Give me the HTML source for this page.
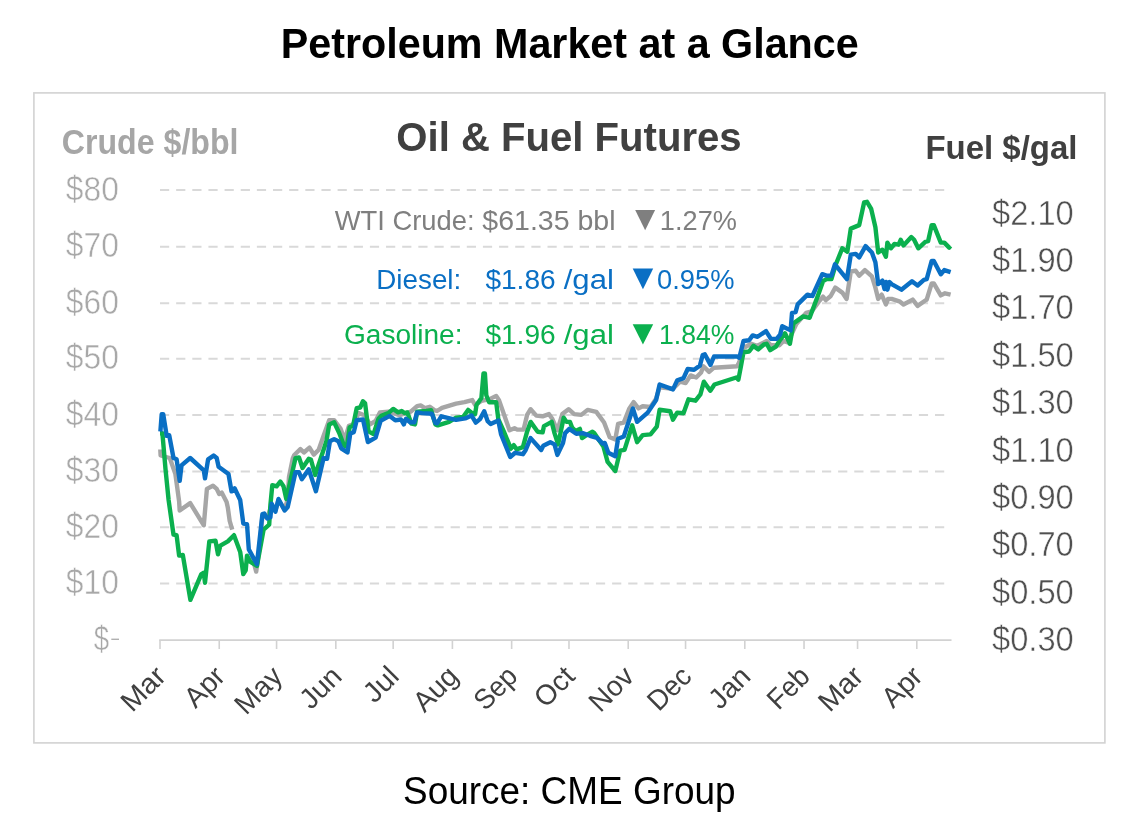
<!DOCTYPE html>
<html><head><meta charset="utf-8"><title>Petroleum Market at a Glance</title>
<style>
html,body{margin:0;padding:0;background:#fff;}
svg{display:block;font-family:"Liberation Sans",sans-serif;will-change:transform;}
</style></head>
<body>
<svg width="1138" height="826" viewBox="0 0 1138 826">
<rect x="33.9" y="92.9" width="1071" height="650" fill="none" stroke="#d2d2d2" stroke-width="1.6"/>
<line x1="160" x2="951" y1="190.10" y2="190.10" stroke="#d9d9d9" stroke-width="2" stroke-dasharray="9.2 6.946"/>
<line x1="160" x2="951" y1="246.70" y2="246.70" stroke="#d9d9d9" stroke-width="2" stroke-dasharray="9.2 6.946"/>
<line x1="160" x2="951" y1="303.20" y2="303.20" stroke="#d9d9d9" stroke-width="2" stroke-dasharray="9.2 6.946"/>
<line x1="160" x2="951" y1="358.70" y2="358.70" stroke="#d9d9d9" stroke-width="2" stroke-dasharray="9.2 6.946"/>
<line x1="160" x2="951" y1="414.90" y2="414.90" stroke="#d9d9d9" stroke-width="2" stroke-dasharray="9.2 6.946"/>
<line x1="160" x2="951" y1="471.50" y2="471.50" stroke="#d9d9d9" stroke-width="2" stroke-dasharray="9.2 6.946"/>
<line x1="160" x2="951" y1="527.20" y2="527.20" stroke="#d9d9d9" stroke-width="2" stroke-dasharray="9.2 6.946"/>
<line x1="160" x2="951" y1="583.60" y2="583.60" stroke="#d9d9d9" stroke-width="2" stroke-dasharray="9.2 6.946"/>
<line x1="159.2" x2="951.5" y1="640.1" y2="640.1" stroke="#d2d2d2" stroke-width="1.6"/>
<line x1="160.00" x2="160.00" y1="640.1" y2="649" stroke="#d2d2d2" stroke-width="1.6"/>
<line x1="219.24" x2="219.24" y1="640.1" y2="649" stroke="#d2d2d2" stroke-width="1.6"/>
<line x1="276.58" x2="276.58" y1="640.1" y2="649" stroke="#d2d2d2" stroke-width="1.6"/>
<line x1="335.82" x2="335.82" y1="640.1" y2="649" stroke="#d2d2d2" stroke-width="1.6"/>
<line x1="393.16" x2="393.16" y1="640.1" y2="649" stroke="#d2d2d2" stroke-width="1.6"/>
<line x1="452.40" x2="452.40" y1="640.1" y2="649" stroke="#d2d2d2" stroke-width="1.6"/>
<line x1="511.64" x2="511.64" y1="640.1" y2="649" stroke="#d2d2d2" stroke-width="1.6"/>
<line x1="568.98" x2="568.98" y1="640.1" y2="649" stroke="#d2d2d2" stroke-width="1.6"/>
<line x1="628.22" x2="628.22" y1="640.1" y2="649" stroke="#d2d2d2" stroke-width="1.6"/>
<line x1="685.56" x2="685.56" y1="640.1" y2="649" stroke="#d2d2d2" stroke-width="1.6"/>
<line x1="744.80" x2="744.80" y1="640.1" y2="649" stroke="#d2d2d2" stroke-width="1.6"/>
<line x1="804.04" x2="804.04" y1="640.1" y2="649" stroke="#d2d2d2" stroke-width="1.6"/>
<line x1="857.56" x2="857.56" y1="640.1" y2="649" stroke="#d2d2d2" stroke-width="1.6"/>
<line x1="916.80" x2="916.80" y1="640.1" y2="649" stroke="#d2d2d2" stroke-width="1.6"/>
<g fill="none" stroke-width="4.4" stroke-linejoin="round" stroke-linecap="butt">
<path d="M160.3,449.5 L160.6,455.5 L169.8,458.0 L175.4,474.1 L179.1,501.2 L179.7,510.5 L190.2,503.1 L203.8,525.3 L206.9,488.9 L213.0,485.8 L216.7,488.9 L219.2,494.0 L221.7,492.6 L226.6,502.0 L227.8,507.4 L229.7,521.0 L232.2,529.6" stroke="#a6a6a6"/>
<path d="M252.0,556.0 L256.2,571.6 L259.5,548.0 L262.4,516.0 L267.3,517.5 L271.7,505.0 L275.4,510.5 L278.5,500.0 L284.6,509.5 L287.5,500.0 L289.0,477.0 L292.7,458.7 L294.1,455.3 L300.4,449.0 L303.9,452.5 L309.5,447.6 L313.8,454.6 L318.7,449.7 L323.6,435.6 L329.2,420.2 L334.1,420.2 L340.5,428.6 L344.7,439.9 L348.9,425.8 L353.1,424.4 L358.8,413.1 L364.4,415.2 L370.0,424.4 L375.6,420.9 L379.9,412.4 L388.3,411.7 L393.9,413.1 L399.5,415.2 L410.8,411.7 L417.1,406.1 L420.6,405.4 L424.9,408.2 L429.8,406.8 L434.7,410.3 L437.0,411.0 L442.0,407.8 L456.1,403.6 L464.5,402.2 L472.3,400.1 L475.1,405.0 L481.4,400.8 L489.1,399.4 L496.2,395.9 L499.0,400.1 L509.5,430.3 L514.5,428.2 L517.3,429.6 L523.6,429.6 L527.1,414.9 L530.6,409.2 L536.3,415.6 L542.6,416.3 L548.9,414.1 L552.4,419.1 L557.4,430.3 L562.3,414.1 L568.6,409.2 L574.2,414.1 L581.3,414.9 L587.6,409.9 L596.3,411.9 L604.1,422.5 L609.7,437.2 L615.3,439.4 L618.1,423.9 L623.8,422.5 L629.4,408.4 L633.6,402.1 L638.5,408.4 L642.7,406.3 L650.5,407.0 L656.1,398.6 L659.6,387.3 L673.0,388.7 L680.0,381.7 L685.6,383.1 L690.6,375.4 L696.2,377.5 L701.1,372.5 L703.4,366.3 L709.1,371.9 L714.0,367.7 L737.2,366.3 L739.3,362.1 L743.5,348.0 L751.3,343.8 L756.9,345.9 L766.7,341.0 L770.9,345.2 L779.4,345.2 L783.6,341.0 L787.8,342.4 L796.3,324.1 L806.1,312.9 L811.7,311.4 L818.8,301.6 L823.0,296.7 L825.8,300.2 L830.7,296.0 L835.3,287.6 L842.3,292.6 L846.6,298.9 L850.8,271.5 L855.7,270.8 L859.2,275.7 L864.9,270.1 L871.9,276.4 L875.4,287.6 L878.2,298.9 L881.7,294.7 L885.9,304.5 L888.1,298.9 L891.6,298.9 L900.0,301.7 L903.5,304.5 L912.7,299.6 L917.6,305.9 L924.6,301.0 L926.7,299.6 L931.7,283.4 L933.8,283.4 L940.8,295.4 L945.0,293.3 L950.6,294.7" stroke="#a6a6a6"/>
<path d="M160.0,433.3 L162.4,433.3 L165.5,469.1 L168.6,500.0 L173.5,534.6 L176.6,535.2 L179.1,555.6 L182.8,554.9 L190.4,599.8 L201.3,574.1 L203.8,572.8 L205.0,582.7 L209.3,541.4 L215.5,540.7 L218.0,554.3 L220.4,545.7 L227.8,541.4 L234.0,535.2 L240.2,551.9 L243.3,574.1 L245.7,570.4 L247.0,555.6 L250.1,561.7 L256.9,566.0 L263.6,529.6 L269.2,524.7 L270.4,505.0 L272.3,485.2 L276.6,486.4 L280.3,481.5 L283.5,486.3 L286.3,498.9 L295.5,458.1 L299.0,457.4 L302.5,468.0 L308.8,458.8 L310.9,459.5 L315.2,475.0 L326.4,441.3 L329.2,424.4 L334.1,422.3 L339.1,432.8 L344.0,445.5 L346.8,446.9 L349.6,427.2 L353.1,425.8 L356.7,408.2 L360.2,407.5 L363.0,401.2 L365.1,403.3 L368.6,431.4 L373.5,434.2 L378.5,418.8 L381.3,415.9 L388.3,413.1 L393.2,408.9 L398.1,412.4 L401.7,411.0 L404.5,413.1 L407.3,412.4 L411.5,423.7 L415.0,424.4 L417.1,411.7 L426.3,411.0 L431.2,410.3 L435.4,424.4 L437.8,425.4 L449.1,421.9 L456.1,417.7 L463.1,417.0 L468.1,409.9 L471.6,412.7 L475.1,414.1 L476.5,405.0 L481.4,398.0 L483.5,373.4 L484.9,373.4 L486.3,395.2 L489.1,402.2 L496.2,402.2 L498.3,419.1 L503.9,431.7 L510.9,448.6 L513.8,445.1 L516.6,449.3 L522.9,447.2 L527.1,431.7 L530.6,421.9 L537.7,431.7 L542.6,432.4 L544.0,426.1 L551.7,421.9 L554.5,433.1 L558.1,444.4 L563.7,417.7 L566.5,421.9 L570.0,421.9 L572.1,427.5 L575.6,431.0 L579.9,428.9 L582.0,438.1 L587.6,434.5 L592.5,431.7 L594.2,433.0 L603.4,446.4 L607.6,461.9 L615.3,471.0 L620.2,450.6 L624.5,449.9 L632.2,425.3 L637.1,442.2 L642.7,435.1 L650.5,434.4 L656.8,426.7 L659.6,409.8 L670.2,411.2 L673.0,419.7 L677.2,412.6 L683.5,413.3 L688.5,399.3 L695.5,400.7 L700.4,394.3 L703.9,381.7 L710.3,390.8 L714.5,384.5 L736.3,377.5 L738.4,379.6 L741.2,364.8 L743.5,352.2 L749.1,351.5 L753.4,345.9 L758.3,349.4 L763.9,344.5 L766.7,343.8 L770.2,350.1 L775.9,346.6 L779.4,341.0 L785.0,333.2 L789.9,343.8 L793.5,323.4 L803.3,316.4 L809.6,317.8 L818.8,293.2 L823.0,281.2 L826.5,279.1 L831.4,279.1 L835.6,265.0 L842.3,248.3 L847.3,251.8 L850.8,228.6 L859.2,225.1 L864.1,202.5 L867.0,201.8 L871.2,208.9 L875.4,227.2 L878.2,252.5 L882.4,249.7 L885.9,256.7 L887.4,242.6 L890.9,248.3 L894.4,244.0 L898.6,244.7 L900.7,239.8 L903.5,245.4 L911.3,237.0 L914.1,239.8 L918.3,248.3 L925.3,241.9 L928.1,241.2 L931.7,225.1 L933.8,225.1 L940.8,242.6 L944.3,242.6 L949.2,247.6 L950.6,246.1" stroke="#0bb04e"/>
<path d="M160.4,431.5 L161.7,414.2 L163.2,414.2 L166.7,435.8 L169.2,435.2 L173.5,458.0 L176.6,459.3 L179.7,480.9 L181.5,465.4 L190.2,458.0 L203.8,470.4 L205.0,478.4 L208.1,459.3 L213.6,455.6 L216.7,458.0 L218.6,466.7 L228.5,474.1 L231.5,491.4 L234.6,488.3 L240.2,500.0 L243.3,523.5 L247.0,524.1 L248.8,549.4 L256.9,564.2 L262.4,514.2 L264.3,513.6 L267.3,518.5 L270.4,517.3 L271.7,503.7 L275.4,511.7 L278.5,499.0 L284.6,510.5 L287.7,507.0 L295.5,472.2 L299.0,472.2 L301.8,479.2 L308.8,469.4 L315.9,491.2 L323.6,458.1 L327.1,458.8 L329.9,441.3 L334.1,439.1 L338.4,441.3 L341.2,448.3 L347.5,452.5 L350.3,433.5 L353.8,432.1 L356.7,420.2 L363.0,419.5 L367.9,442.0 L375.6,437.7 L380.6,420.9 L389.7,415.9 L395.3,420.2 L401.0,419.5 L403.8,424.4 L405.9,418.8 L410.1,422.3 L414.3,422.3 L417.1,412.4 L422.1,413.1 L431.9,413.8 L435.4,423.0 L437.1,423.3 L441.3,416.3 L456.1,419.8 L465.2,418.4 L471.6,415.6 L475.8,422.6 L480.0,419.1 L484.2,411.3 L487.7,421.2 L490.6,424.0 L498.3,420.5 L501.1,434.5 L510.2,457.0 L515.2,452.8 L522.9,454.2 L525.7,450.0 L530.6,438.1 L541.2,450.0 L543.3,445.8 L550.3,442.3 L554.5,444.4 L557.4,454.9 L563.0,443.0 L565.1,433.1 L569.3,428.9 L576.3,433.8 L582.7,433.1 L590.0,435.8 L597.0,437.9 L602.7,443.6 L604.8,442.9 L608.3,452.7 L615.3,456.2 L618.1,438.7 L623.8,436.5 L632.9,408.4 L637.1,421.8 L647.7,412.6 L656.1,400.0 L659.6,384.5 L673.0,389.4 L677.2,380.3 L683.5,378.2 L687.7,369.0 L694.1,369.7 L699.9,365.6 L702.7,355.0 L704.8,354.3 L710.5,364.9 L714.0,356.5 L737.2,356.5 L739.3,357.9 L743.5,341.0 L749.1,340.3 L752.7,335.4 L757.6,336.8 L766.0,331.1 L770.9,338.9 L776.6,338.9 L780.1,334.7 L782.2,326.2 L790.6,330.4 L792.0,312.9 L795.6,312.1 L797.7,304.4 L807.5,294.6 L812.4,296.0 L822.3,274.2 L826.5,275.6 L831.4,275.6 L834.9,264.3 L846.9,279.1 L850.8,254.6 L855.7,253.9 L859.2,257.4 L865.6,246.1 L871.9,252.5 L875.4,262.3 L878.2,284.1 L882.4,280.6 L884.5,289.0 L886.0,282.0 L887.4,289.7 L889.5,282.0 L891.6,284.1 L901.4,289.7 L912.0,281.3 L917.6,285.5 L923.9,279.9 L926.7,279.2 L931.7,260.9 L933.8,260.9 L940.8,274.3 L944.3,270.1 L950.6,272.2" stroke="#0a6fc4"/>
</g>
<text transform="translate(280.73,57.50) scale(0.9831,1)" font-size="42" font-weight="bold" fill="#000" >Petroleum Market at a Glance</text>
<text transform="translate(396.32,151.00) scale(0.9783,1)" font-size="41" font-weight="bold" fill="#404040" >Oil &amp; Fuel Futures</text>
<text transform="translate(61.77,154.00) scale(0.9321,1)" font-size="34.5" font-weight="bold" fill="#a6a6a6" >Crude $/bbl</text>
<text transform="translate(925.43,158.90) scale(0.9841,1)" font-size="33.5" font-weight="bold" fill="#404040" >Fuel $/gal</text>
<text transform="translate(65.80,200.70) scale(0.9000,1)" font-size="35.3" font-weight="normal" fill="#a8a8a8" stroke="#fff" stroke-width="0.5">$80</text>
<text transform="translate(65.80,257.30) scale(0.9000,1)" font-size="35.3" font-weight="normal" fill="#a8a8a8" stroke="#fff" stroke-width="0.5">$70</text>
<text transform="translate(65.80,313.80) scale(0.9000,1)" font-size="35.3" font-weight="normal" fill="#a8a8a8" stroke="#fff" stroke-width="0.5">$60</text>
<text transform="translate(65.80,369.30) scale(0.9000,1)" font-size="35.3" font-weight="normal" fill="#a8a8a8" stroke="#fff" stroke-width="0.5">$50</text>
<text transform="translate(65.80,425.50) scale(0.9000,1)" font-size="35.3" font-weight="normal" fill="#a8a8a8" stroke="#fff" stroke-width="0.5">$40</text>
<text transform="translate(65.80,482.10) scale(0.9000,1)" font-size="35.3" font-weight="normal" fill="#a8a8a8" stroke="#fff" stroke-width="0.5">$30</text>
<text transform="translate(65.80,537.80) scale(0.9000,1)" font-size="35.3" font-weight="normal" fill="#a8a8a8" stroke="#fff" stroke-width="0.5">$20</text>
<text transform="translate(65.80,594.20) scale(0.9000,1)" font-size="35.3" font-weight="normal" fill="#a8a8a8" stroke="#fff" stroke-width="0.5">$10</text>
<text transform="translate(93.70,650.60) scale(0.7842,1)" font-size="35.3" font-weight="normal" fill="#a8a8a8" stroke="#fff" stroke-width="0.5">$</text>
<line x1="111.3" x2="119" y1="639.3" y2="639.3" stroke="#b0b0b0" stroke-width="1.4"/>
<text transform="translate(992.00,224.80) scale(0.9079,1)" font-size="36" font-weight="normal" fill="#505050" stroke="#fff" stroke-width="0.5">$2.10</text>
<text transform="translate(992.00,272.14) scale(0.9079,1)" font-size="36" font-weight="normal" fill="#505050" stroke="#fff" stroke-width="0.5">$1.90</text>
<text transform="translate(992.00,319.48) scale(0.9079,1)" font-size="36" font-weight="normal" fill="#505050" stroke="#fff" stroke-width="0.5">$1.70</text>
<text transform="translate(992.00,366.82) scale(0.9079,1)" font-size="36" font-weight="normal" fill="#505050" stroke="#fff" stroke-width="0.5">$1.50</text>
<text transform="translate(992.00,414.16) scale(0.9079,1)" font-size="36" font-weight="normal" fill="#505050" stroke="#fff" stroke-width="0.5">$1.30</text>
<text transform="translate(992.00,461.50) scale(0.9079,1)" font-size="36" font-weight="normal" fill="#505050" stroke="#fff" stroke-width="0.5">$1.10</text>
<text transform="translate(992.00,508.84) scale(0.9079,1)" font-size="36" font-weight="normal" fill="#505050" stroke="#fff" stroke-width="0.5">$0.90</text>
<text transform="translate(992.00,556.18) scale(0.9079,1)" font-size="36" font-weight="normal" fill="#505050" stroke="#fff" stroke-width="0.5">$0.70</text>
<text transform="translate(992.00,603.52) scale(0.9079,1)" font-size="36" font-weight="normal" fill="#505050" stroke="#fff" stroke-width="0.5">$0.50</text>
<text transform="translate(992.00,650.86) scale(0.9079,1)" font-size="36" font-weight="normal" fill="#505050" stroke="#fff" stroke-width="0.5">$0.30</text>
<text transform="translate(334.70,230.40) scale(0.9878,1)" font-size="27.7" font-weight="normal" fill="#7f7f7f" >WTI Crude:</text>
<text transform="translate(482.30,230.40) scale(1.0305,1)" font-size="27.7" font-weight="normal" fill="#7f7f7f" >$61.35 bbl</text>
<text transform="translate(659.84,230.40) scale(0.9816,1)" font-size="27.7" font-weight="normal" fill="#7f7f7f" >1.27%</text>
<polygon points="635.2,210.1 655.1,210.1 645.15,230.3" fill="#7f7f7f"/>
<text transform="translate(376.29,288.90) scale(1.0037,1)" font-size="27.7" font-weight="normal" fill="#0a6fc4" >Diesel:</text>
<text transform="translate(485.40,288.90) scale(1.0130,1)" font-size="27.7" font-weight="normal" fill="#0a6fc4" >$1.86</text>
<text transform="translate(563.70,288.90) scale(1.1233,1)" font-size="27.7" font-weight="normal" fill="#0a6fc4" >/gal</text>
<text transform="translate(657.01,288.90) scale(0.9857,1)" font-size="27.7" font-weight="normal" fill="#0a6fc4" >0.95%</text>
<polygon points="632.7,268.4 653.2,268.4 642.95,289.2" fill="#0a6fc4"/>
<text transform="translate(343.99,344.10) scale(1.0132,1)" font-size="27.7" font-weight="normal" fill="#0bb04e" >Gasoline:</text>
<text transform="translate(485.40,344.10) scale(1.0130,1)" font-size="27.7" font-weight="normal" fill="#0bb04e" >$1.96</text>
<text transform="translate(563.70,344.10) scale(1.1233,1)" font-size="27.7" font-weight="normal" fill="#0bb04e" >/gal</text>
<text transform="translate(658.98,344.10) scale(0.9605,1)" font-size="27.7" font-weight="normal" fill="#0bb04e" >1.84%</text>
<polygon points="632.7,324.2 653.2,324.2 642.95,344.4" fill="#0bb04e"/>
<text transform="translate(403.06,804.00) scale(0.9694,1)" font-size="38.1" font-weight="normal" fill="#000" >Source: CME Group</text>
<text transform="translate(167.50,678.0) rotate(-45) scale(1.020,1)" text-anchor="end" font-size="28.4" fill="#404040">Mar</text>
<text transform="translate(226.74,678.0) rotate(-45) scale(0.998,1)" text-anchor="end" font-size="28.4" fill="#404040">Apr</text>
<text transform="translate(284.08,678.0) rotate(-45) scale(1.001,1)" text-anchor="end" font-size="28.4" fill="#404040">May</text>
<text transform="translate(343.32,678.0) rotate(-45) scale(1.001,1)" text-anchor="end" font-size="28.4" fill="#404040">Jun</text>
<text transform="translate(400.66,678.0) rotate(-45) scale(1.021,1)" text-anchor="end" font-size="28.4" fill="#404040">Jul</text>
<text transform="translate(459.90,678.0) rotate(-45) scale(0.993,1)" text-anchor="end" font-size="28.4" fill="#404040">Aug</text>
<text transform="translate(519.14,678.0) rotate(-45) scale(0.948,1)" text-anchor="end" font-size="28.4" fill="#404040">Sep</text>
<text transform="translate(576.48,678.0) rotate(-45) scale(0.989,1)" text-anchor="end" font-size="28.4" fill="#404040">Oct</text>
<text transform="translate(635.72,678.0) rotate(-45) scale(0.995,1)" text-anchor="end" font-size="28.4" fill="#404040">Nov</text>
<text transform="translate(693.06,678.0) rotate(-45) scale(0.962,1)" text-anchor="end" font-size="28.4" fill="#404040">Dec</text>
<text transform="translate(752.30,678.0) rotate(-45) scale(1.001,1)" text-anchor="end" font-size="28.4" fill="#404040">Jan</text>
<text transform="translate(811.54,678.0) rotate(-45) scale(0.955,1)" text-anchor="end" font-size="28.4" fill="#404040">Feb</text>
<text transform="translate(865.06,678.0) rotate(-45) scale(1.020,1)" text-anchor="end" font-size="28.4" fill="#404040">Mar</text>
<text transform="translate(924.30,678.0) rotate(-45) scale(0.998,1)" text-anchor="end" font-size="28.4" fill="#404040">Apr</text>
</svg>
</body></html>
